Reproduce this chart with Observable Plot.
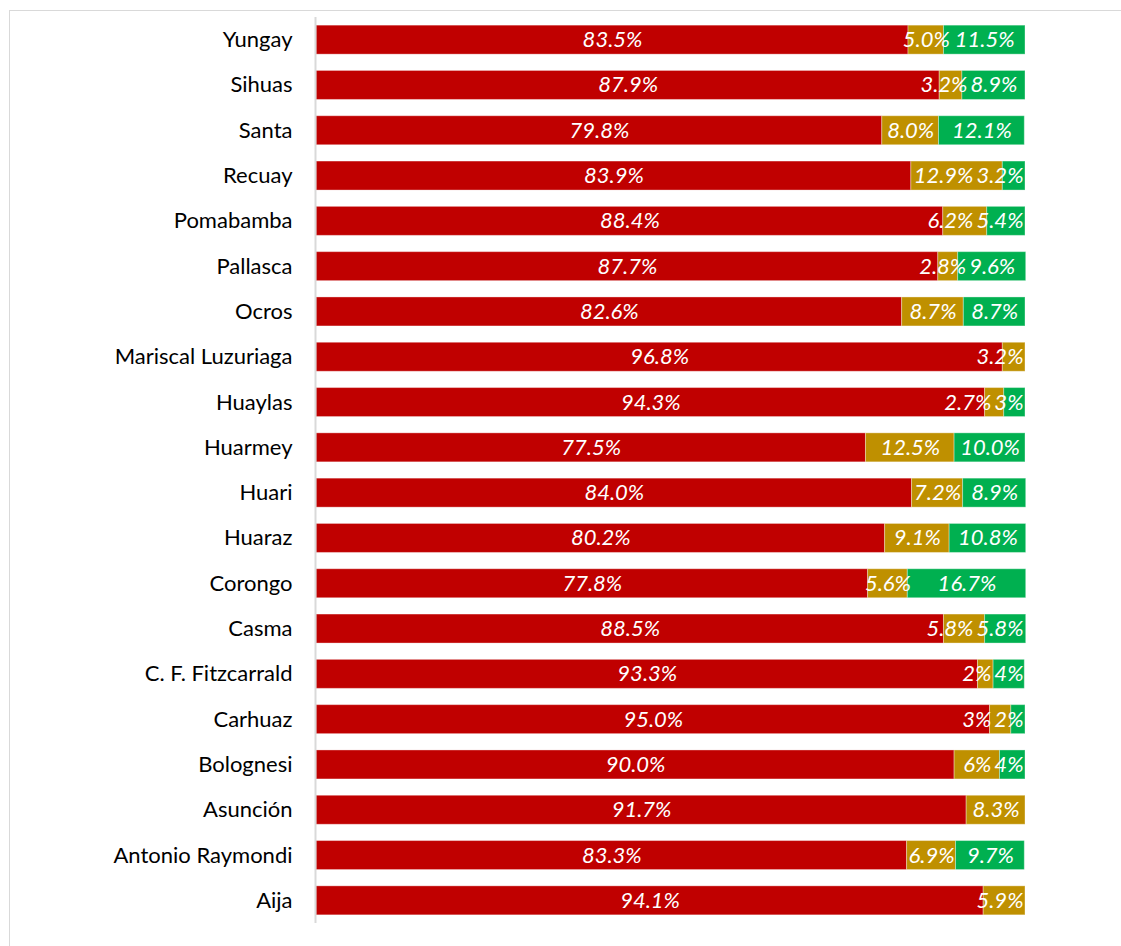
<!DOCTYPE html>
<html>
<head>
<meta charset="utf-8">
<script src="https://cdn.jsdelivr.net/npm/d3@7"></script>
<script src="https://cdn.jsdelivr.net/npm/@observablehq/plot@0.6"></script>
<style>
  html, body { margin: 0; padding: 0; background: #fff; overflow: hidden; }
  #wrap { position: relative; width: 1121px; height: 946px; overflow: hidden; }
  #frame { position: absolute; left: 9px; top: 10px; width: 1200px; height: 1000px; border: 1px solid #d9d9d9; box-sizing: border-box; }
  #chart { position: absolute; left: 0; top: 0; }
</style>
</head>
<body>
<div id="wrap"><div id="frame"></div><div id="chart"></div></div>
<script>
const categories = ["Yungay","Sihuas","Santa","Recuay","Pomabamba","Pallasca","Ocros","Mariscal Luzuriaga","Huaylas","Huarmey","Huari","Huaraz","Corongo","Casma","C. F. Fitzcarrald","Carhuaz","Bolognesi","Asunción","Antonio Raymondi","Aija"];
const seriesNames = ["Rojo","Amarillo","Verde"];
const seriesColors = ["#C00000","#BF9000","#00B050"];
const redValues    = [83.5,87.9,79.8,83.9,88.4,87.7,82.6,96.8,94.3,77.5,84.0,80.2,77.8,88.5,93.3,95.0,90.0,91.7,83.3,94.1];
const goldValues   = [5.0,3.2,8.0,12.9,6.2,2.8,8.7,3.2,2.7,12.5,7.2,9.1,5.6,5.8,2.2,3.0,6.4,8.3,6.9,5.9];
const greenValues  = [11.5,8.9,12.1,3.2,5.4,9.6,8.7,0,3.0,10.0,8.9,10.8,16.7,5.8,4.4,2.0,3.6,0,9.7,0];
const redLabels    = ["83.5%","87.9%","79.8%","83.9%","88.4%","87.7%","82.6%","96.8%","94.3%","77.5%","84.0%","80.2%","77.8%","88.5%","93.3%","95.0%","90.0%","91.7%","83.3%","94.1%"];
const goldLabels   = ["5.0%","3.2%","8.0%","12.9%","6.2%","2.8%","8.7%","3.2%","2.7%","12.5%","7.2%","9.1%","5.6%","5.8%","2%","3%","6%","8.3%","6.9%","5.9%"];
const greenLabels  = ["11.5%","8.9%","12.1%","3.2%","5.4%","9.6%","8.7%","","3%","10.0%","8.9%","10.8%","16.7%","5.8%","4%","2%","4%","","9.7%",""];

const W = 1121, H = 946;
const mL = 316, mR = 96, mT = 17, mB = 23;
const FONT = "Lato, 'Open Sans', sans-serif";
const valueFontSize = 22;
const tickFontSize = 22;

const seriesValues = [redValues, goldValues, greenValues];
const seriesLabels = [redLabels, goldLabels, greenLabels];

const bars = [];
categories.forEach((cat, i) => {
  seriesNames.forEach((s, k) => {
    bars.push({cat, series: s, value: seriesValues[k][i]});
  });
});

// label layout: centered in segment, kept inside the plot and free of overlaps
const ctx = document.createElement("canvas").getContext("2d");
ctx.font = `italic ${valueFontSize}px ${FONT}`;
const pxPerUnit = (W - mL - mR) / 100;
const labels = [];
categories.forEach((cat, i) => {
  let acc = 0;
  const segs = seriesNames.map((s, k) => {
    const v = seriesValues[k][i];
    const x0 = acc, x1 = acc + v;
    acc = x1;
    return {k, v, x0, x1, text: seriesLabels[k][i]};
  });
  let limit = 100 - 2 / pxPerUnit;
  for (let k = segs.length - 1; k >= 0; k--) {
    const sg = segs[k];
    if (!sg.v || !sg.text) continue;
    const w = ctx.measureText(sg.text).width / pxPerUnit;
    let cx = (sg.x0 + sg.x1) / 2;
    if (cx + w / 2 > limit) cx = limit - w / 2;
    limit = cx - w / 2 - 3 / pxPerUnit;
    labels.push({cat, x: cx, text: sg.text});
  }
});

const chart = Plot.plot({
  width: W,
  height: H,
  marginLeft: mL,
  marginRight: mR,
  marginTop: mT,
  marginBottom: mB,
  style: {fontFamily: FONT, background: "transparent"},
  x: {domain: [0, 100], axis: null},
  y: {domain: categories, paddingInner: 0.36, paddingOuter: 0.18, round: false, label: null},
  color: {domain: seriesNames, range: seriesColors},
  marks: [
    Plot.barX(bars, {y: "cat", x: "value", fill: "series", order: seriesNames, stroke: "#fff", strokeOpacity: 0.35, strokeWidth: 1}),
    Plot.ruleX([0], {stroke: "#d9d9d9", strokeWidth: 2, dx: -1}),
    Plot.axisY({tickSize: 0, tickPadding: 24, fontSize: tickFontSize, fill: "#000", label: null}),
    Plot.text(labels, {x: "x", y: "cat", text: "text", fill: "#fff", fontSize: valueFontSize, fontStyle: "italic", textAnchor: "middle"})
  ]
});
document.getElementById("chart").appendChild(chart);
</script>
</body>
</html>
